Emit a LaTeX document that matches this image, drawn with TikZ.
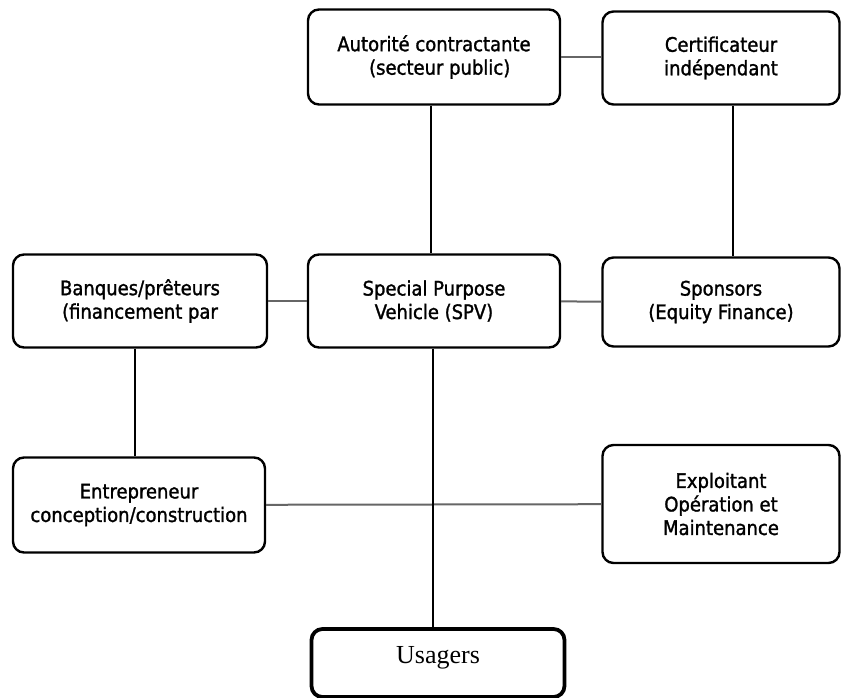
\documentclass[tikz,border=0pt]{standalone}
\usepackage{fontspec}
\setmainfont{DejaVu Sans Condensed}[FakeBold=1.4]
\newfontfamily\serifusag{Liberation Serif}
\usepackage{tikz}

\begin{document}
\begin{tikzpicture}[x=1pt, y=-1pt,
    acteur/.style={draw, line width=2.4pt, rounded corners=11pt, align=center,%
      font=\fontsize{20}{23.5}\selectfont, inner sep=4pt},
    lienh/.style={draw=black!60, line width=2pt},
    lienv/.style={draw=black, line width=1.7pt}]
  \useasboundingbox (0,0) rectangle (843,698);

  \node [acteur, minimum width=252pt, minimum height=95pt] (autorite) at (434,57)%
    {Autorité contractante\\ \ \ (secteur public)};
  \node [acteur, minimum width=237pt, minimum height=93pt] (certif) at (721,58)%
    {Certificateur\\indépendant};
  \node [acteur, minimum width=254pt, minimum height=93pt] (banques) at (140,301)%
    {Banques/prêteurs\\(financement par};
  \node [acteur, minimum width=252pt, minimum height=93pt] (spv) at (434,301)%
    {Special Purpose\\Vehicle (SPV)};
  \node [acteur, minimum width=237pt, minimum height=89pt] (sponsors) at (721,302)%
    {Sponsors\\(Equity Finance)};
  \node [acteur, minimum width=252pt, minimum height=95pt] (entrepreneur) at (139,505)%
    {Entrepreneur\\conception/construction};
  \node [acteur, minimum width=237pt, minimum height=118pt] (exploitant) at (721,504)%
    {Exploitant\\Opération et\\Maintenance};
  \node [acteur, line width=3.8pt, minimum width=253pt, text height=30pt, text depth=30pt,%
    font=\serifusag\fontsize{26}{30}\selectfont] (usagers) at (438,663) {Usagers};

  \draw [lienh] (autorite.east) -- (autorite.east -| certif.west);
  \draw [lienh] (banques) -- (spv);
  \draw [lienh] (spv) -- (sponsors);
  \draw [lienh] (entrepreneur) -- (exploitant);

  \draw [lienv] (autorite.south -| 431,0) -- (spv.north -| 431,0);
  \draw [lienv] (certif.south -| 733,0) -- (sponsors.north -| 733,0);
  \draw [lienv] (banques.south -| 135,0) -- (entrepreneur.north -| 135,0);
  \draw [lienv] (spv.south -| 433,0) -- (usagers.north -| 433,0);
\end{tikzpicture}
\end{document}
